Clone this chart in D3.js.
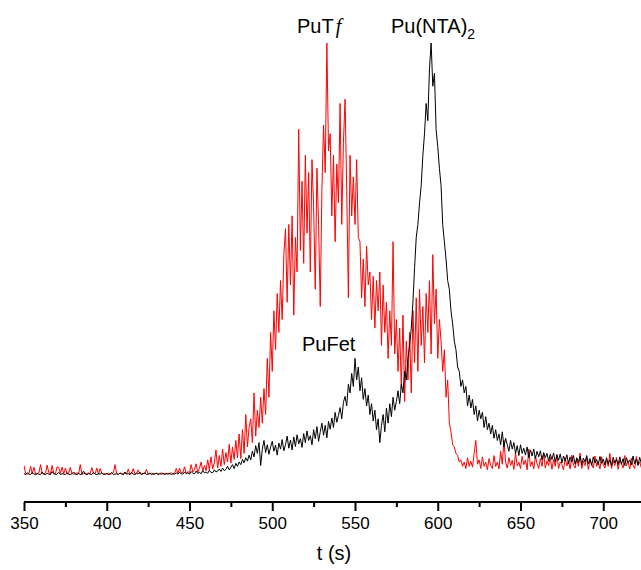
<!DOCTYPE html>
<html>
<head>
<meta charset="utf-8">
<script src="https://cdn.jsdelivr.net/npm/d3@7"></script>
<style>
  body { margin: 0; background: #fff; }
  svg { display: block; font-family: "Liberation Sans", Arial, sans-serif; }
</style>
</head>
<body>
<svg id="chart"></svg>
<script>
// sampling: one point per second starting at t = 350 s
const startTime = 350;
const stepTime = 1;

const xTicks = [350, 400, 450, 500, 550, 600, 650, 700];

// PuTf signal (red), arbitrary units
const putfSignal = [
  2.2, 0.3, 0.2, 0.4, 2.0, 0.3, 1.8, 0.2, 0.3, 0.5,
  2.4, 0.3, 0.2, 0.4, 2.3, 0.5, 0.3, 2.2, 0.4, 0.3,
  1.9, 1.7, 0.4, 1.8, 0.3, 1.6, 0.2, 0.4, 1.8, 0.3,
  0.2, 0.3, 0.5, 0.3, 2.4, 0.2, 0.3, 0.4, 0.2, 0.5,
  0.3, 1.7, 0.4, 0.3, 1.6, 0.2, 1.5, 0.4, 0.3, 0.2,
  0.3, 0.4, 0.2, 0.3, 0.5, 2.4, 0.3, 0.2, 0.4, 0.3,
  0.2, 0.4, 0.3, 1.4, 0.2, 0.4, 1.5, 0.3, 0.4, 1.2,
  0.3, 0.2, 0.4, 0.3, 1.3, 0.2, 0.3, 0.4, 0.2, 0.3,
  0.4, 0.2, 0.3, 0.5, 0.2, 0.3, 0.4, 0.2, 0.3, 0.5,
  0.3, 0.4, 1.5, 0.4, 1.6, 0.5, 0.6, 1.9, 0.4, 0.8,
  0.5, 2.4, 0.7, 1.2, 2.6, 0.6, 1.5, 3.0, 0.9, 2.2,
  1.0, 3.5, 1.2, 4.2, 1.4, 2.8, 5.8, 1.6, 4.5, 2.0,
  6.0, 2.4, 5.2, 3.0, 7.1, 2.8, 6.5, 3.6, 8.0, 4.0,
  9.5, 3.8, 10.5, 5.0, 14.0, 6.5, 11.0, 13.0, 7.5, 19.0,
  9.0, 15.0, 11.0, 18.0, 12.0, 20.0, 14.0, 27.0, 18.0, 33.0,
  24, 38, 29, 42, 33, 45, 36, 51, 57, 40,
  58, 44, 60, 37, 55, 47, 80, 52, 68, 49,
  74, 56, 70, 47, 73, 62, 43, 71, 58, 39,
  66, 81, 70, 100, 75, 79, 60, 74, 54, 72,
  63, 86, 58, 77, 87, 66, 41, 74, 60, 69,
  58, 73, 55, 54, 41, 50, 39, 53, 44, 47,
  36, 46, 34, 45, 38, 47, 30, 44, 33, 40,
  27, 38, 30, 54, 28, 36, 24, 34, 20, 37,
  17, 31, 22, 33, 19, 38, 26, 41, 24, 43,
  30, 39, 26, 42, 33, 45, 28, 51, 35, 43,
  27, 36, 31, 24, 29, 18, 22, 12, 10, 7,
  6.5, 5, 4.5, 3, 3.5, 2, 3, 1.5, 4, 2,
  3.2, 1.8, 5, 8, 2.5, 3.5, 1.5, 4.2, 2, 3,
  1.2, 3.8, 2.2, 1.5, 4.5, 2, 3, 1.4, 5.5, 2.5,
  8, 3, 1.6, 4, 2.2, 3.4, 1.3, 5.2, 2.1, 3,
  1.5, 4.3, 2.4, 3.5, 1.2, 6, 2, 3.1, 1.4, 4.4,
  2.6, 1.5, 3.8, 2, 5, 1.6, 3.3, 2.2, 4.1, 1.3,
  3.6, 2, 4.8, 1.5, 3, 2.4, 1.2, 4, 2.1, 3.3,
  1.4, 4.6, 2.3, 1.6, 3.7, 2, 5.1, 1.5, 3.2, 2.2,
  4, 1.3, 3.5, 2.5, 1.6, 4.4, 2, 3.1, 1.4, 4.2,
  2.4, 1.6, 3.6, 2, 5, 1.5, 3.3, 2.2, 4.1, 1.3,
  3.4, 2.6, 1.6, 4.5, 2.1, 3.2, 1.4, 3.9, 2.2, 1.5,
  4.3, 2.4, 3, 1.7, 3.5, 2.1
];

// Pu(NTA)2 + PuFet signal (black), arbitrary units
const puntaSignal = [
  0.3, 0.1, 0.5, 0.2, 0.1, 0.6, 0.2, 0.1, 0.3, 0.2,
  0.1, 0.7, 0.2, 0.1, 0.4, 0.2, 0.1, 0.8, 0.3, 0.1,
  0.2, 0.6, 0.1, 0.3, 0.2, 0.1, 0.5, 0.2, 0.1, 0.3,
  0.7, 0.2, 0.1, 0.4, 0.1, 0.2, 0.9, 0.2, 0.1, 0.3,
  0.2, 0.1, 0.6, 0.2, 0.1, 0.3, 0.2, 0.5, 0.1, 0.2,
  0.3, 0.1, 0.2, 0.6, 0.1, 0.2, 0.3, 0.1, 0.5, 0.2,
  0.1, 0.7, 0.2, 0.3, 0.1, 0.6, 0.2, 0.1, 0.4, 0.2,
  0.7, 0.1, 0.3, 0.5, 0.1, 0.2, 0.4, 0.1, 0.3, 0.2,
  0.4, 0.1, 0.3, 0.2, 0.4, 0.1, 0.3, 0.2, 0.4, 0.1,
  0.3, 0.2, 0.5, 0.2, 0.6, 0.3, 0.2, 0.7, 0.3, 0.5,
  0.2, 0.8, 0.4, 0.3, 0.9, 0.4, 0.6, 0.3, 1.0, 0.5,
  0.7, 0.4, 1.1, 0.6, 0.5, 1.2, 0.7, 0.9, 1.4, 0.8,
  1.6, 1.0, 1.3, 2.0, 1.2, 1.8, 2.4, 1.5, 2.7, 2.0,
  3.0, 2.4, 3.6, 2.8, 4.0, 3.2, 4.6, 3.5, 5.5, 4.2,
  6.8, 5.0, 7.5, 2.2, 6.0, 8.0, 5.2, 7.0, 4.8, 6.5,
  7.8, 5.5, 6.9, 4.6, 7.4, 6.0, 8.2, 5.6, 7.0, 9.0,
  6.2, 8.1, 5.8, 8.8, 6.6, 9.3, 7.2, 8.4, 6.4, 9.6,
  7.5, 10.2, 8.0, 9.1, 7.0, 10.5, 8.4, 11.2, 7.8, 10.0,
  12.0, 9.2, 11.5, 8.6, 12.4, 10.6, 13.2, 11.0, 14.5, 12.2,
  13.8, 15.6, 13.0, 16.8, 18.2, 16.0, 21.0, 19.0, 23.5, 20.5,
  27.0, 22.0, 25.0, 19.5, 22.5, 17.5, 20.0, 16.0, 18.5, 14.0,
  16.5, 12.5, 15.0, 10.5, 13.0, 7.5, 11.5, 14.0, 10.0, 15.5,
  12.0, 16.5, 13.5, 18.0, 15.0, 17.0, 19.5, 16.5, 21.0, 19.0,
  24.0, 22.0, 27.0, 30.0, 34.0, 40.0, 48.0, 55.0, 58.0, 63.0,
  67.0, 74.0, 79.0, 86.0, 82.0, 94.0, 100.0, 90.0, 93.0, 80.0,
  76.0, 71.0, 67.0, 58.0, 54.0, 50.0, 45.0, 43.0, 38.0, 35.0,
  31.0, 29.0, 25.0, 24.0, 20.5, 22.0, 19.0, 20.5, 16.0, 18.5,
  15.5, 17.5, 14.0, 16.0, 12.5, 15.0, 13.0, 14.5, 11.0, 13.5,
  10.5, 12.0, 9.5, 11.5, 8.5, 10.5, 8.0, 9.5, 7.0, 10.0,
  6.5, 8.5, 7.0, 5.5, 8.0, 6.0, 7.5, 5.0, 6.8, 4.5,
  7.0, 5.0, 6.2, 4.6, 6.5, 4.0, 5.8, 4.4, 6.0, 3.8,
  5.5, 4.2, 5.6, 3.5, 5.2, 4.0, 5.0, 3.2, 4.8, 3.6,
  5.1, 3.0, 4.6, 3.4, 4.9, 2.8, 4.4, 3.2, 4.7, 2.6,
  4.2, 3.0, 4.5, 2.5, 4.0, 2.9, 4.4, 2.4, 3.9, 3.0,
  4.5, 2.6, 3.8, 2.2, 4.2, 2.8, 3.6, 2.4, 4.3, 2.7,
  3.7, 2.3, 4.0, 2.6, 3.5, 2.2, 4.1, 2.8, 3.6, 2.4,
  4.2, 2.5, 3.8, 2.2, 4.0, 2.9, 3.5, 2.3, 4.4, 2.6,
  3.7, 2.2, 4.1, 2.7, 3.6, 2.4
];

const peakLabels = [
  { text: "PuT", italic: "f", t: 533, v: 100 },
  { text: "Pu(NTA)", sub: "2", t: 596, v: 100 },
  { text: "PuFet", t: 550, v: 27 }
];

const width = 641, height = 570;
const plotLeft = 24, plotRight = 641;
const baseY = 475, topY = 43, axisY = 502;

const svg = d3.select("#chart")
  .attr("width", width)
  .attr("height", height);

svg.append("rect")
  .attr("width", width).attr("height", height).attr("fill", "#fff");

const xScale = d3.scaleLinear()
  .domain([350, 350 + (plotRight - plotLeft) / 1.655])
  .range([plotLeft, plotRight]);

const yScale = d3.scaleLinear()
  .domain([0, 100])
  .range([baseY, topY]);

const toPoints = arr => arr.map((v, i) => ({ t: startTime + i * stepTime, v: v }));

const line = d3.line()
  .x(d => xScale(d.t))
  .y(d => yScale(d.v));

svg.append("defs").append("clipPath").attr("id", "clip")
  .append("rect")
  .attr("x", plotLeft).attr("y", 0)
  .attr("width", plotRight - plotLeft).attr("height", axisY);

const plot = svg.append("g").attr("clip-path", "url(#clip)");

plot.append("path")
  .datum(toPoints(putfSignal))
  .attr("fill", "none")
  .attr("stroke", "#ff0000")
  .attr("stroke-width", 1)
  .attr("d", line);

plot.append("path")
  .datum(toPoints(puntaSignal))
  .attr("fill", "none")
  .attr("stroke", "#000")
  .attr("stroke-width", 1)
  .attr("d", line);

// x axis with minor ticks every 25 s
const minorTicks = d3.range(350, 726, 25).filter(t => t % 50 !== 0);

const axisG = svg.append("g")
  .attr("transform", "translate(0," + axisY + ")");

axisG.append("g")
  .call(d3.axisBottom(xScale).tickValues(minorTicks).tickSize(5).tickFormat(""))
  .call(g => g.select(".domain").remove())
  .selectAll("line").attr("stroke-width", 2);

const majorAxis = axisG.append("g")
  .call(d3.axisBottom(xScale).tickValues(xTicks).tickSize(9).tickPadding(6).tickFormat(d3.format("d")));

majorAxis.select(".domain")
  .attr("d", "M" + plotLeft + ",0H" + plotRight)
  .attr("stroke-width", 2);
majorAxis.selectAll("line").attr("stroke-width", 2);
majorAxis.selectAll("text")
  .attr("font-size", "17px")
  .attr("font-family", "Liberation Sans, Arial, sans-serif")
  .attr("fill", "#000");

svg.append("text")
  .attr("x", 334)
  .attr("y", 560)
  .attr("text-anchor", "middle")
  .attr("font-size", "20px")
  .text("t (s)");

// peak labels
const labelPos = [
  { x: 297, y: 33 },
  { x: 391, y: 33 },
  { x: 302, y: 351 }
];

peakLabels.forEach((d, i) => {
  const txt = svg.append("text")
    .attr("x", labelPos[i].x)
    .attr("y", labelPos[i].y)
    .attr("font-size", "20px")
    .text(d.text);
  if (d.italic) {
    txt.append("tspan")
      .attr("font-family", "Liberation Serif, serif")
      .attr("font-style", "italic")
      .attr("dx", 2)
      .text(d.italic);
  }
  if (d.sub) {
    txt.append("tspan")
      .attr("font-size", "14px")
      .attr("dy", 6)
      .text(d.sub);
  }
});
</script>
</body>
</html>
